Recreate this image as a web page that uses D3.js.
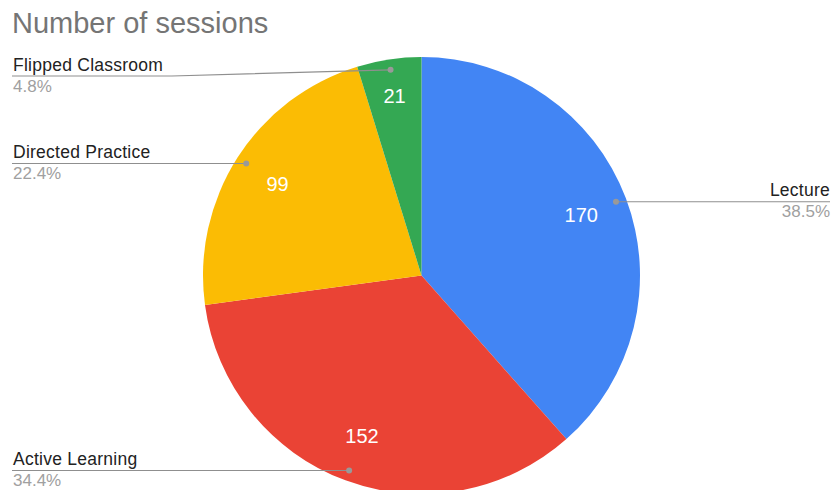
<!DOCTYPE html>
<html>
<head>
<meta charset="utf-8">
<script src="https://cdn.jsdelivr.net/npm/d3@7"></script>
<style>
  html, body { margin: 0; padding: 0; background: #fff; }
  svg { display: block; font-family: "Liberation Sans", Arial, sans-serif; }
</style>
</head>
<body>
<svg id="chart" width="834" height="490"></svg>
<script>
// Session counts by teaching format
const categories = ["Lecture", "Active Learning", "Directed Practice", "Flipped Classroom"];
const sessions = [170, 152, 99, 21];
const colors = ["#4285f4", "#ea4335", "#fbbc04", "#34a853"];
const titleText = "Number of sessions";

const width = 834, height = 490;
const cx = 421.5, cy = 275.5, R = 218.5;

const svg = d3.select("#chart");

svg.append("text")
  .attr("x", 12).attr("y", 33)
  .attr("fill", "#757575")
  .attr("font-size", 29)
  .text(titleText);

const data = categories.map((c, i) => ({ name: c, value: sessions[i], color: colors[i] }));
const total = d3.sum(sessions);
const pct = d3.format(".1%");

const pie = d3.pie().sort(null).value(d => d.value);
const arcs = pie(data);
const arc = d3.arc().innerRadius(0).outerRadius(R);

const g = svg.append("g").attr("transform", `translate(${cx},${cy})`);

g.selectAll("path.slice")
  .data(arcs)
  .join("path")
  .attr("class", "slice")
  .attr("d", arc)
  .attr("fill", d => d.data.color);

// value labels inside slices; narrow slices get pushed outward
g.selectAll("text.val")
  .data(arcs)
  .join("text")
  .attr("class", "val")
  .each(function (d) {
    const mid = (d.startAngle + d.endAngle) / 2;
    const span = d.endAngle - d.startAngle;
    const r = span < 0.5 ? R * 0.83 : R * 0.782;
    d3.select(this)
      .attr("x", r * Math.sin(mid))
      .attr("y", -r * Math.cos(mid))
      .attr("dy", "0.36em");
  })
  .attr("text-anchor", "middle")
  .attr("fill", "#fff")
  .attr("font-size", 20)
  .text(d => d.data.value);

// leader lines and side labels
const dotR = R - 10.5;
const minLineY = 76;
const leftX = 12, rightX = 830;
const elbowLeft = cx - R - 31;

arcs.forEach(d => {
  const mid = (d.startAngle + d.endAngle) / 2;
  const px = cx + dotR * Math.sin(mid);
  const py = cy - dotR * Math.cos(mid);
  const right = Math.sin(mid) > 0;
  const ly = Math.max(py, minLineY);

  let pts;
  if (right) {
    pts = [[px, py], [rightX, ly]];
  } else if (Math.abs(ly - py) > 0.5) {
    pts = [[px, py], [elbowLeft, ly], [leftX, ly]];
  } else {
    pts = [[px, py], [leftX, ly]];
  }

  svg.append("path")
    .attr("d", d3.line()(pts))
    .attr("fill", "none")
    .attr("stroke", "#8f8f8f")
    .attr("stroke-width", 1.2);

  svg.append("circle")
    .attr("cx", px).attr("cy", py).attr("r", 3)
    .attr("fill", "#999");

  const tx = right ? rightX : leftX + 1;
  const anchor = right ? "end" : "start";

  svg.append("text")
    .attr("x", tx).attr("y", ly - 5.5)
    .attr("text-anchor", anchor)
    .attr("fill", "#222")
    .attr("font-size", 17.5)
    .attr("letter-spacing", 0.25)
    .text(d.data.name);

  svg.append("text")
    .attr("x", tx).attr("y", ly + 15.5)
    .attr("text-anchor", anchor)
    .attr("fill", "#a0a0a0")
    .attr("font-size", 17)
    .text(pct(d.data.value / total));
});
</script>
</body>
</html>
